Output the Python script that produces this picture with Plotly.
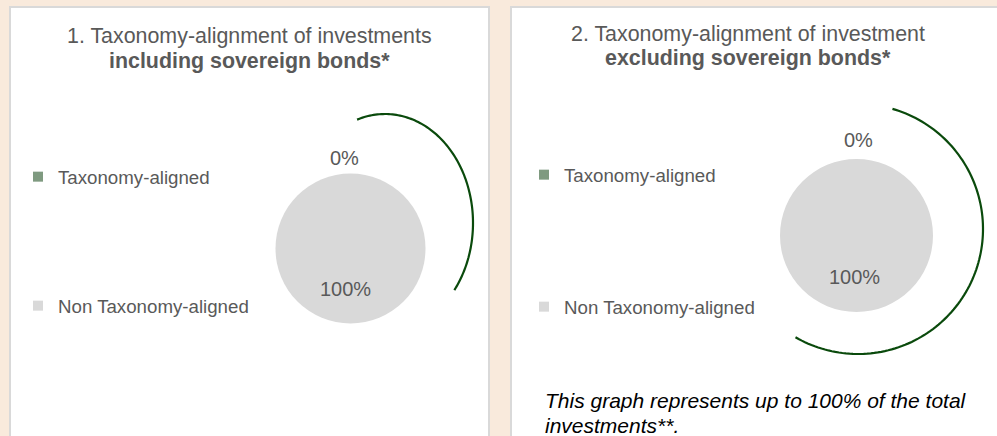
import numpy as np
import plotly.graph_objects as go

# ---------------- data ----------------
categories = ["Taxonomy-aligned", "Non Taxonomy-aligned"]
incl_sovereign_values = [0, 100]
excl_sovereign_values = [0, 100]
slice_colors = ["#7f9a80", "#d9d9d9"]

title1_lines = ["1. Taxonomy-alignment of investments", "<b>including sovereign bonds*</b>"]
title2_lines = ["2. Taxonomy-alignment of investment", "<b>excluding sovereign bonds*</b>"]
note_lines = ["<i>This graph represents up to 100% of the total</i>", "<i>investments**.</i>"]

# ---------------- layout helpers ----------------
W, H = 997, 436
FONT = "Liberation Sans, Arial, sans-serif"
GREY_TXT = "#595959"
ARC_COL = "#0a4a0c"
BEIGE = "#f9eadc"


def px(x):
    return x / W


def py(y):
    return 1 - y / H


panels = [
    dict(values=incl_sovereign_values, titles=title1_lines, title_x=249.5, title_y=[36, 60.5],
         center=(350.5, 248.5), radius=75,
         label_pos=[(344, 157.5), (345.5, 289)],
         legend_x=18, legend_y=[177, 306],
         arc=dict(cx=385, cy=223, rx=88, ry=109, t0=-18.5, t1=128)),
    dict(values=excl_sovereign_values, titles=title2_lines, title_x=748, title_y=[33.5, 57.5],
         center=(856.5, 235.5), radius=76.5,
         label_pos=[(858.7, 140.3), (854.7, 276.5)],
         legend_x=524, legend_y=[175, 307],
         arc=dict(cx=858, cy=229, rx=125, ry=125, t0=16, t1=210)),
]

fig = go.Figure()
annotations = []
shapes = []
legends = {}

# panel backgrounds
shapes.append(dict(type="rect", xref="paper", yref="paper", x0=px(10), x1=px(489), y0=-0.1, y1=py(7),
                   fillcolor="white", line=dict(color="#d9d9d9", width=2), layer="below"))
shapes.append(dict(type="rect", xref="paper", yref="paper", x0=px(511), x1=1.1, y0=-0.1, y1=py(7),
                   fillcolor="white", line=dict(color="#d9d9d9", width=2), layer="below"))

leg_idx = 0
for p in panels:
    cx, cy = p["center"]
    r = p["radius"]
    fig.add_trace(go.Pie(
        labels=categories, values=p["values"], sort=False, direction="clockwise", rotation=0,
        marker=dict(colors=slice_colors, line=dict(width=0)),
        textinfo="none", showlegend=False, hoverinfo="label+percent",
        domain=dict(x=[px(cx - r), px(cx + r)], y=[py(cy + r), py(cy - r)]),
    ))
    total = sum(p["values"])
    for v, (lx, ly) in zip(p["values"], p["label_pos"]):
        annotations.append(dict(text=f"{v / total * 100:.0f}%", x=px(lx), y=py(ly), xref="paper", yref="paper",
                                showarrow=False, xanchor="center", yanchor="middle",
                                font=dict(family=FONT, size=20, color=GREY_TXT)))
    for t, ty in zip(p["titles"], p["title_y"]):
        annotations.append(dict(text=t, x=px(p["title_x"]), y=py(ty), xref="paper", yref="paper",
                                showarrow=False, xanchor="center", yanchor="middle",
                                font=dict(family=FONT, size=21.4, color=GREY_TXT)))
    # legend entries (one legend per entry to reproduce the wide spacing)
    for cat, col, ly in zip(categories, slice_colors, p["legend_y"]):
        leg_idx += 1
        key = "legend" if leg_idx == 1 else f"legend{leg_idx}"
        fig.add_trace(go.Scatter(x=[None], y=[None], mode="markers", name=cat, legend=key,
                                 marker=dict(symbol="square", size=10, color=col), showlegend=True,
                                 hoverinfo="skip"))
        legends[key] = dict(x=px(p["legend_x"]), y=py(ly), xanchor="left", yanchor="middle",
                            bgcolor="rgba(0,0,0,0)", borderwidth=0,
                            font=dict(family=FONT, size=18.7, color=GREY_TXT), itemwidth=30)
    # decorative arc
    a = p["arc"]
    th = np.radians(np.linspace(a["t0"], a["t1"], 120))
    xs = a["cx"] + a["rx"] * np.sin(th)
    ys = a["cy"] - a["ry"] * np.cos(th)
    path = "M " + " L ".join(f"{px(x):.5f},{py(y):.5f}" for x, y in zip(xs, ys))
    shapes.append(dict(type="path", xref="paper", yref="paper", path=path,
                       line=dict(color=ARC_COL, width=2.2), layer="above"))

for line, ny in zip(note_lines, [400.3, 425]):
    annotations.append(dict(text=line, x=px(543), y=py(ny), xref="paper", yref="paper",
                            showarrow=False, xanchor="left", yanchor="middle",
                            font=dict(family=FONT, size=21, color="#000000")))

fig.update_layout(
    width=W, height=H, margin=dict(l=0, r=0, t=0, b=0),
    paper_bgcolor=BEIGE, plot_bgcolor="rgba(0,0,0,0)",
    xaxis=dict(visible=False), yaxis=dict(visible=False),
    annotations=annotations, shapes=shapes,
    **legends,
)

fig.write_html(
    "out.html",
    config={"displayModeBar": False},
    post_script=(
        "document.body.style.margin='0';"
        "document.body.style.padding='0';"
        "document.body.style.overflow='hidden';"
        f"document.body.style.background='{BEIGE}';"
    ),
)
